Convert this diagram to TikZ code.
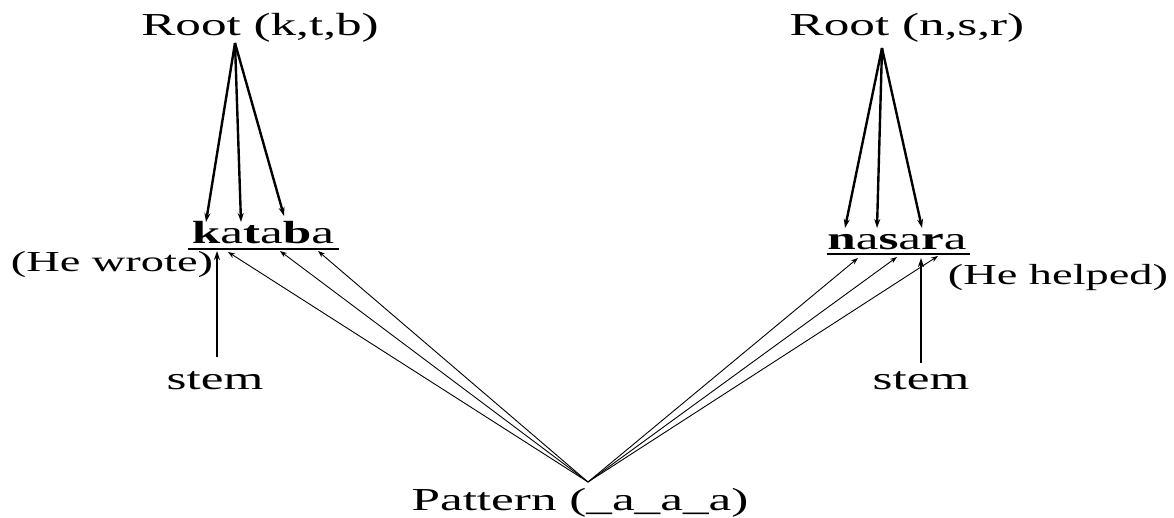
\documentclass[tikz,border=0pt]{standalone}
\usepackage{fontspec}
\setmainfont{Liberation Serif}[FakeStretch=1.6]
\usetikzlibrary{arrows.meta}
\begin{document}
\begin{tikzpicture}[x=1pt,y=-1pt,
  lbl/.style={inner sep=0pt,anchor=base,font=\fontsize{32}{38}\selectfont},
  gloss/.style={inner sep=0pt,anchor=base,font=\fontsize{29}{34}\selectfont},
  rootarrow/.style={line width=2.4pt,-{Stealth[length=9pt,width=6pt]}},
  stemarrow/.style={line width=2.4pt,-{Stealth[length=9pt,width=6pt]}},
  patarrow/.style={line width=0.9pt,-{Stealth[length=7pt,width=5pt]}},
  uline/.style={line width=2pt}]
\useasboundingbox (0,0) rectangle (1174,518);

% labels
\node[lbl] (rootL) at (260,36) {Root (k,t,b)};
\node[lbl] (rootR) at (907,36) {Root (n,s,r)};
\node[lbl] (wordL) at (263,244) {\textbf{k}a\textbf{t}a\textbf{b}a};
\node[lbl] (wordR) at (897,250) {\textbf{n}a\textbf{s}a\textbf{r}a};
\node[gloss] (glossL) at (112,272) {(He wrote)};
\node[gloss] (glossR) at (1058,285) {(He helped)};
\node[lbl] (stemL) at (215,389) {stem};
\node[lbl] (stemR) at (921,389) {stem};
\node[lbl] (pat) at (580,510) {Pattern (\_a\_a\_a)};

% fan-out points and letter targets
\coordinate (apexL) at (235,43);
\coordinate (apexR) at (882,48);
\coordinate (apexP) at (588,482);
\coordinate (rk) at (206,222);
\coordinate (rt) at (241,222);
\coordinate (rb) at (284,216);
\coordinate (rn) at (845,228);
\coordinate (rs) at (877,228);
\coordinate (rr) at (922,228);
\coordinate (pa1) at (228,252);
\coordinate (pa2) at (280,251);
\coordinate (pa3) at (318,251);
\coordinate (pb1) at (858,258);
\coordinate (pb2) at (897,257);
\coordinate (pb3) at (938,256);
\coordinate (sL) at (217,251);
\coordinate (sR) at (921,258);
\coordinate (sLb) at (217,357);
\coordinate (sRb) at (921,363);

% underlines
\draw[uline] (188,249) -- (339,249);
\draw[uline] (827,254) -- (970,254);

% root consonants
\draw[rootarrow] (apexL) -- (rk);
\draw[rootarrow] (apexL) -- (rt);
\draw[rootarrow] (apexL) -- (rb);
\draw[rootarrow] (apexR) -- (rn);
\draw[rootarrow] (apexR) -- (rs);
\draw[rootarrow] (apexR) -- (rr);

% stems
\draw[stemarrow] (sLb) -- (sL);
\draw[stemarrow] (sRb) -- (sR);

% pattern vowels
\draw[patarrow] (apexP) -- (pa1);
\draw[patarrow] (apexP) -- (pa2);
\draw[patarrow] (apexP) -- (pa3);
\draw[patarrow] (apexP) -- (pb1);
\draw[patarrow] (apexP) -- (pb2);
\draw[patarrow] (apexP) -- (pb3);
\end{tikzpicture}
\end{document}
